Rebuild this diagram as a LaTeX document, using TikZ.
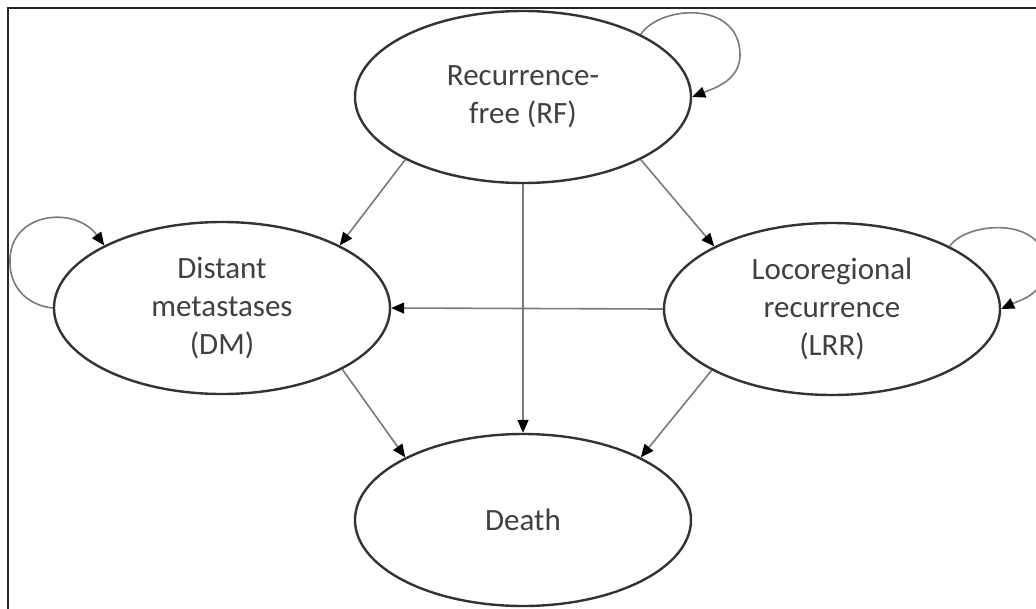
\documentclass[tikz,border=0pt]{standalone}
\usepackage{fontspec}
\setmainfont{Carlito}
\usetikzlibrary{shapes.geometric,arrows.meta}
\definecolor{outline}{HTML}{333333}
\definecolor{linkgray}{HTML}{7A7A7A}
\definecolor{txt}{HTML}{404040}
\tikzset{
  state/.style={ellipse, draw=outline, line width=2.4pt, minimum width=336pt, minimum height=172pt, inner sep=0pt, align=center, text=txt, font=\fontsize{31}{38}\selectfont},
  trans/.style={draw=linkgray, line width=1.6pt, -{Triangle[length=13pt,width=11pt,color=black]}},
  frameline/.style={draw=black!85, line width=2.6pt}
}
\begin{document}
\begin{tikzpicture}[x=1pt,y=-1pt]
\useasboundingbox (0,0) rectangle (1036,608);
\clip (0,0) rectangle (1036,608);
\fill[white] (0,0) rectangle (1036,608);
\draw[frameline] (1045,8) -- (8,8) -- (8,620);

\node[state] (RF) at (523,97) {Recurrence-\\free (RF)};
\node[state] (DM) at (222,308) {Distant\\metastases\\(DM)};
\node[state] (LRR) at (832,309) {Locoregional\\recurrence\\(LRR)};
\node[state] (D) at (523,520) {Death};

\draw[trans] (RF.208) -- (DM.28);
\draw[trans] (RF.332) -- (LRR.152);
\draw[trans] (RF.south) -- (D.north);
\draw[trans] (LRR.west) -- (DM.east);
\draw[trans] (DM.333) -- (D.152);
\draw[trans] (LRR.207) -- (D.28);

% self loops
\draw[trans] (RF.28) .. controls (660,5) and (740,0) .. (740,55)
  .. controls (740,80) and (715,88) .. (RF.east);
\draw[trans] (DM.west) .. controls (25,305) and (10,285) .. (10,263)
  .. controls (8,212) and (75,205) .. (DM.152);
\draw[trans] (LRR.28) .. controls (965,222) and (1045,215) .. (1045,265)
  .. controls (1045,295) and (1020,300) .. (LRR.east);
\end{tikzpicture}
\end{document}
